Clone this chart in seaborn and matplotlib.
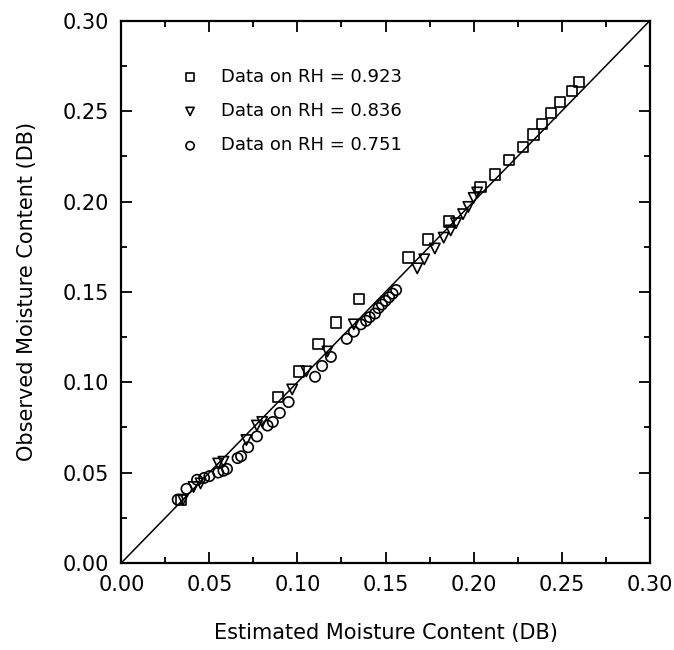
import numpy as np
import pandas as pd
import matplotlib
matplotlib.use("Agg")
import matplotlib.pyplot as plt
from matplotlib.ticker import MultipleLocator
import seaborn as sns

# Datos (contenido de humedad, base seca)
sq_x = [0.034, 0.089, 0.101, 0.112, 0.122, 0.135, 0.163, 0.174, 0.186, 0.204,
        0.212, 0.220, 0.228, 0.234, 0.239, 0.244, 0.249, 0.256, 0.260]
sq_y = [0.035, 0.092, 0.106, 0.121, 0.133, 0.146, 0.169, 0.179, 0.189, 0.208,
        0.215, 0.223, 0.230, 0.237, 0.243, 0.249, 0.255, 0.261, 0.266]

tri_x = [0.035, 0.041, 0.045, 0.055, 0.058, 0.071, 0.077, 0.080, 0.097, 0.105,
         0.117, 0.132, 0.168, 0.172, 0.178, 0.183, 0.187, 0.190, 0.194, 0.197,
         0.200, 0.202]
tri_y = [0.035, 0.042, 0.044, 0.055, 0.056, 0.068, 0.076, 0.078, 0.096, 0.106,
         0.117, 0.132, 0.163, 0.168, 0.174, 0.180, 0.184, 0.188, 0.193, 0.197,
         0.202, 0.205]

circ_x = [0.032, 0.037, 0.043, 0.047, 0.050, 0.055, 0.058, 0.060, 0.066, 0.068,
          0.072, 0.077, 0.083, 0.086, 0.090, 0.095, 0.110, 0.114, 0.119, 0.128,
          0.132, 0.136, 0.139, 0.141, 0.144, 0.146, 0.148, 0.150, 0.152, 0.154,
          0.156]
circ_y = [0.035, 0.041, 0.046, 0.047, 0.048, 0.050, 0.051, 0.052, 0.058, 0.059,
          0.064, 0.070, 0.076, 0.078, 0.083, 0.089, 0.103, 0.109, 0.114, 0.124,
          0.128, 0.132, 0.134, 0.136, 0.138, 0.141, 0.143, 0.145, 0.147, 0.149,
          0.151]

line_x = [0.0, 0.30]
line_y = [0.0, 0.30]

labels = ["Data on RH = 0.923", "Data on RH = 0.836", "Data on RH = 0.751"]
ticks = [0.00, 0.05, 0.10, 0.15, 0.20, 0.25, 0.30]

sns.set_style("ticks")
plt.rcParams['font.family'] = ['DejaVu Sans']
plt.rcParams['text.color'] = 'black'
plt.rcParams['axes.labelcolor'] = 'black'

fig = plt.figure(figsize=(6.74, 6.5), dpi=100)
ax = fig.add_axes([0.180, 0.134, 0.784, 0.834])

# Linea 1:1
sns.lineplot(x=line_x, y=line_y, ax=ax, color='black', linewidth=1.1)

# Series
series = [(sq_x, sq_y, 's', labels[0]),
          (tri_x, tri_y, 'v', labels[1]),
          (circ_x, circ_y, 'o', labels[2])]
for xs, ys, mk, lab in series:
    sns.scatterplot(x=xs, y=ys, ax=ax, marker=mk, s=55, facecolor='none',
                    edgecolor='black', linewidth=1.2, label=lab)

ax.set_xlim(0, 0.30)
ax.set_ylim(0, 0.30)
ax.set_xticks(ticks)
ax.set_yticks(ticks)
ax.set_xticklabels([f"{t:.2f}" for t in ticks])
ax.set_yticklabels([f"{t:.2f}" for t in ticks])
ax.xaxis.set_minor_locator(MultipleLocator(0.025))
ax.yaxis.set_minor_locator(MultipleLocator(0.025))
ax.tick_params(which='both', direction='in', top=True, right=True,
               width=1.3, colors='black')
ax.tick_params(which='major', length=8, labelsize=15, pad=9)
ax.tick_params(which='minor', length=4.5)
for sp in ax.spines.values():
    sp.set_linewidth(1.6)
    sp.set_color('black')

ax.set_xlabel('Estimated Moisture Content (DB)', fontsize=15, labelpad=20)
ax.set_ylabel('Observed Moisture Content (DB)', fontsize=15, labelpad=18)

leg = ax.legend(loc='upper left', bbox_to_anchor=(0.113, 0.913), frameon=False,
                fontsize=13, markerscale=0.8, handletextpad=1.2,
                labelspacing=0.9, borderaxespad=0, borderpad=0,
                handlelength=1.0)
for t in leg.get_texts():
    t.set_color('black')

plt.savefig('out.png', dpi=100)
plt.close()
